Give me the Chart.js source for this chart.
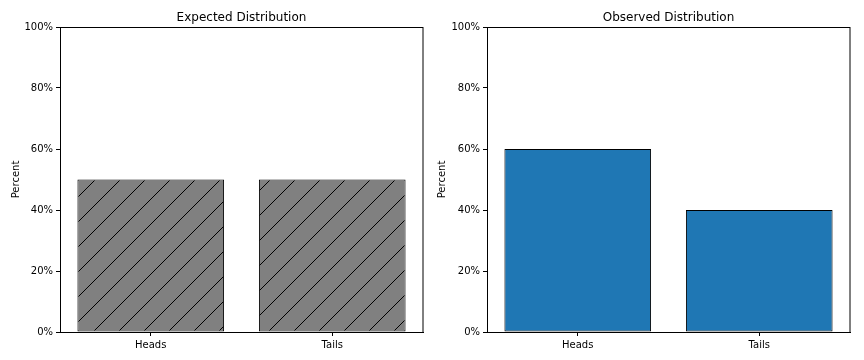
<!DOCTYPE html>
<html>
<head>
<meta charset="utf-8">
<script src="https://cdn.jsdelivr.net/npm/chart.js@4"></script>
<style>
html,body{margin:0;padding:0;background:#fff;}
#wrap{position:relative;width:864px;height:360px;}
canvas{position:absolute;top:0;}
</style>
</head>
<body>
<div id="wrap">
<canvas id="c1" width="432" height="360" style="left:0"></canvas>
<canvas id="c2" width="432" height="360" style="left:432px"></canvas>
</div>
<script>
const categories = ["Heads", "Tails"];
const expectedValues = [50, 50];
const observedValues = [60, 40];
const yTicks = [0, 20, 40, 60, 80, 100];
const titles = ["Expected Distribution", "Observed Distribution"];
const yLabel = "Percent";

Chart.defaults.font.family = "'DejaVu Sans', sans-serif";
Chart.defaults.font.size = 10;
Chart.defaults.color = "#000";

function hatch() {
  const s = 25;
  const c = document.createElement('canvas');
  c.width = s; c.height = s;
  const g = c.getContext('2d');
  g.fillStyle = '#808080';
  g.fillRect(0, 0, s, s);
  g.strokeStyle = '#000';
  g.lineWidth = 1;
  g.beginPath();
  g.moveTo(-2, s + 2); g.lineTo(s + 2, -2);
  g.moveTo(-2, 2); g.lineTo(2, -2);
  g.moveTo(s - 2, s + 2); g.lineTo(s + 2, s - 2);
  g.stroke();
  return g.createPattern(c, 'repeat');
}

const framePlugin = {
  id: 'frame',
  afterDraw(chart, args, opts) {
    const a = chart.chartArea, ctx = chart.ctx;
    ctx.save();
    ctx.strokeStyle = '#000';
    ctx.lineWidth = 1;
    ctx.strokeRect(Math.round(a.left) + 0.5, Math.round(a.top) + 0.5, Math.round(a.right - a.left) - 0.5, Math.round(a.bottom - a.top));
    ctx.fillStyle = '#000';
    ctx.font = "12px 'DejaVu Sans', sans-serif";
    ctx.textAlign = 'center';
    ctx.textBaseline = 'alphabetic';
    ctx.fillText(opts.text, (a.left + a.right) / 2, a.top - 6);
    ctx.restore();
  }
};

function make(id, values, bg, yw, padRight, titlePadTop, title) {
  new Chart(document.getElementById(id), {
    type: 'bar',
    data: {
      labels: categories,
      datasets: [{
        data: values,
        backgroundColor: bg,
        borderColor: '#000',
        borderWidth: 1,
        borderSkipped: false,
        categoryPercentage: 1,
        barPercentage: 0.808
      }]
    },
    options: {
      responsive: false,
      animation: false,
      devicePixelRatio: 1,
      layout: { padding: { left: 0, right: padRight, top: 27, bottom: 0 } },
      plugins: {
        legend: { display: false },
        tooltip: { enabled: false },
        frame: { text: title }
      },
      scales: {
        x: {
          offset: true,
          grid: { display: true, offset: false, drawOnChartArea: false, drawTicks: true, tickLength: 4, color: '#000' },
          border: { display: true, color: '#000' },
          ticks: { padding: 3, color: '#000', font: { size: 10 } },
          afterFit(s) { s.height = 28; }
        },
        y: {
          min: 0, max: 100,
          afterBuildTicks(s) { s.ticks = yTicks.map(v => ({ value: v })); },
          grid: { display: true, drawOnChartArea: false, drawTicks: true, tickLength: 4, color: '#000' },
          border: { display: true, color: '#000' },
          ticks: { padding: 3, color: '#000', font: { size: 10 }, callback: v => v + '%' },
          title: { display: true, text: yLabel, color: '#000', font: { size: 10 }, padding: { top: titlePadTop, bottom: 0 } },
          afterFit(s) { s.width = yw; }
        }
      }
    },
    plugins: [framePlugin]
  });
}

make('c1', expectedValues, hatch(), 60, 9, 10, titles[0]);
make('c2', observedValues, '#1f77b4', 55, 14, 4, titles[1]);
</script>
</body>
</html>
